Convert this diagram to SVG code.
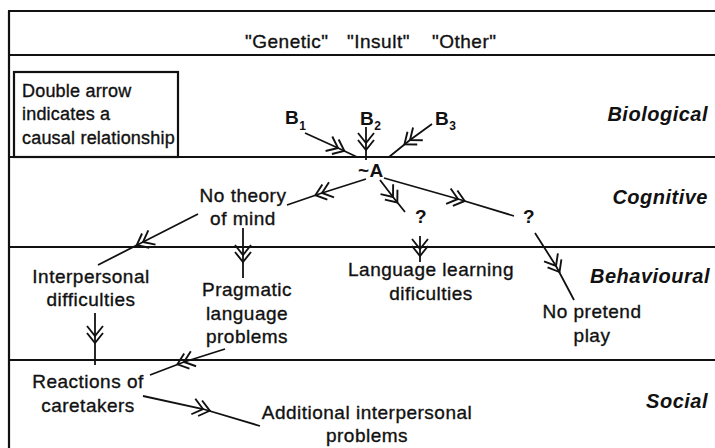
<svg xmlns="http://www.w3.org/2000/svg" width="715" height="448" viewBox="0 0 715 448">
<defs>
<style>
.t{font-family:"Liberation Sans",Arial,sans-serif;font-size:19px;fill:#111;stroke:#111;stroke-width:0.35px;letter-spacing:0.5px}
.c{text-anchor:middle}
.lg{font-family:"Liberation Sans",Arial,sans-serif;font-size:18px;fill:#111;stroke:#111;stroke-width:0.35px;letter-spacing:0.2px}
.ly{font-family:"Liberation Sans",Arial,sans-serif;font-size:20px;font-weight:bold;font-style:italic;fill:#111;text-anchor:end;letter-spacing:0.5px}
.sub{font-size:12px;font-weight:bold}
.b{font-weight:bold;stroke-width:0}
.band{stroke:#111;stroke-width:2.2;fill:none}
.arr{stroke:#111;stroke-width:1.8;fill:none;marker-mid:url(#dbl)}
</style>
<marker id="dbl" markerUnits="userSpaceOnUse" orient="auto" markerWidth="40" markerHeight="40" viewBox="-20 -20 40 40" refX="0" refY="0" overflow="visible">
<path d="M-10,-8 L0,0 L-10,8 M-3,-8 L7,0 L-3,8" fill="none" stroke="#111" stroke-width="1.9"/>
</marker>
</defs>
<rect width="715" height="448" fill="#fff"/>
<g id="frame">
<path class="band" d="M8,11 H715 M9,11 V448 M9,55 H715 M9,157 H715 M9,247 H715 M9,360 H715"/>
<rect x="14" y="72" width="164" height="85" class="band"/>
</g>
<g id="legend">
<text class="lg" x="22" y="97">Double arrow</text>
<text class="lg" x="22" y="120">indicates a</text>
<text class="lg" x="22" y="144">causal relationship</text>
</g>
<g id="header">
<text class="t" x="245" y="48">"Genetic"</text>
<text class="t" x="347" y="48">"Insult"</text>
<text class="t" x="432" y="48">"Other"</text>
</g>
<g id="layers">
<text class="ly" x="708" y="121">Biological</text>
<text class="ly" x="708" y="204">Cognitive</text>
<text class="ly" x="710" y="283">Behavioural</text>
<text class="ly" x="708" y="408">Social</text>
</g>
<g id="B1"><text class="t b" x="285" y="124">B<tspan class="sub" dy="6">1</tspan></text></g>
<g id="B2"><text class="t b" x="360" y="125">B<tspan class="sub" dy="5">2</tspan></text></g>
<g id="B3"><text class="t b" x="435" y="125">B<tspan class="sub" dy="5">3</tspan></text></g>
<g id="A"><text class="t b" x="358" y="177">~A</text></g>
<g id="noTheory"><text class="t c" x="243" y="202">No theory</text><text class="t c" x="243" y="225">of mind</text></g>
<g id="q1"><text class="t b" x="415" y="223">?</text></g>
<g id="q2"><text class="t b" x="523" y="223">?</text></g>
<g id="interpersonal"><text class="t c" x="91" y="283">Interpersonal</text><text class="t c" x="91" y="306">difficulties</text></g>
<g id="pragmatic"><text class="t c" x="247" y="296">Pragmatic</text><text class="t c" x="247" y="320">language</text><text class="t c" x="247" y="343">problems</text></g>
<g id="langLearning"><text class="t c" x="431" y="276">Language learning</text><text class="t c" x="431" y="300">dificulties</text></g>
<g id="noPretend"><text class="t c" x="592" y="318">No pretend</text><text class="t c" x="592" y="342">play</text></g>
<g id="reactions"><text class="t c" x="88" y="388">Reactions of</text><text class="t c" x="88" y="412">caretakers</text></g>
<g id="additional"><text class="t c" x="367" y="419">Additional interpersonal</text><text class="t c" x="367" y="442">problems</text></g>
<g id="connectors">
<path class="arr" d="M305,133 L338,148 L357,157"/>
<path class="arr" d="M366,127 L366,143 L366,160"/>
<path class="arr" d="M432,124 L410,140 L389,157"/>
<path class="arr" d="M366,179 L322,193 L287,205"/>
<path class="arr" d="M380,180 L393,197 L405,212"/>
<path class="arr" d="M384,178 L458,199 L514,216"/>
<path class="arr" d="M420,236 L420,249 L420,262"/>
<path class="arr" d="M535,233 L556,266 L574,300"/>
<path class="arr" d="M198,214 L143,242 L98,265"/>
<path class="arr" d="M243,228 L243,255 L243,278"/>
<path class="arr" d="M95,313 L95,336 L95,365"/>
<path class="arr" d="M225,349 L184,362 L150,375"/>
<path class="arr" d="M143,396 L203,409 L260,426"/>
</g>
</svg>
